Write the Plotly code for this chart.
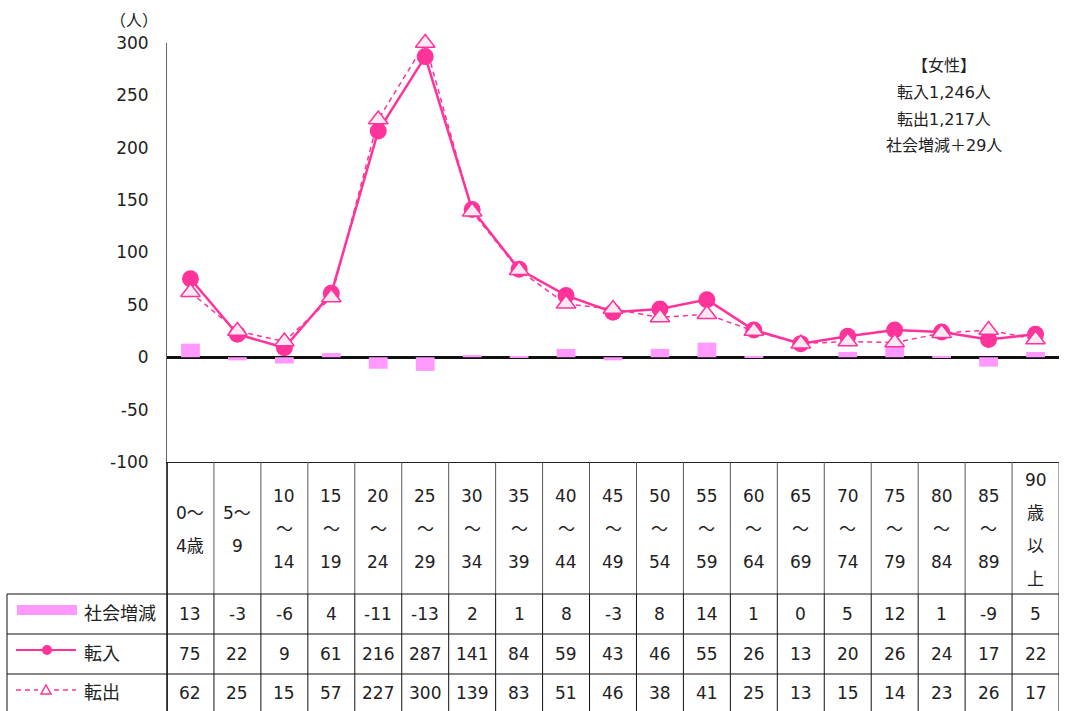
import plotly.graph_objects as go

W, H = 1067, 711

header_lines = [["0～", "4歳"], ["5～", "9"], ["10", "～", "14"], ["15", "～", "19"],
                ["20", "～", "24"], ["25", "～", "29"], ["30", "～", "34"], ["35", "～", "39"],
                ["40", "～", "44"], ["45", "～", "49"], ["50", "～", "54"], ["55", "～", "59"],
                ["60", "～", "64"], ["65", "～", "69"], ["70", "～", "74"], ["75", "～", "79"],
                ["80", "～", "84"], ["85", "～", "89"], ["90", "歳", "以", "上"]]
categories = ["".join(l) for l in header_lines]
net_change = [13, -3, -6, 4, -11, -13, 2, 1, 8, -3, 8, 14, 1, 0, 5, 12, 1, -9, 5]
moved_in = [75, 22, 9, 61, 216, 287, 141, 84, 59, 43, 46, 55, 26, 13, 20, 26, 24, 17, 22]
moved_out = [62, 25, 15, 57, 227, 300, 139, 83, 51, 46, 38, 41, 25, 13, 15, 14, 23, 26, 17]
series_names = ["社会増減", "転入", "転出"]
y_ticks = [-100, -50, 0, 50, 100, 150, 200, 250, 300]
summary_lines = ["【女性】", "転入1,246人", "転出1,217人", "社会増減＋29人"]
unit_label = "（人）"

PINK = "#FF3399"
BAR = "#FF99FF"
TRI_FILL = "#FCEAF3"
FONT = "DejaVu Sans, Noto Sans CJK JP, sans-serif"

def px(x):
    return x / W

def py(y):
    return 1 - y / H

X0, X1 = 167, 1059
Y_TOP, Y_BOT = 43, 462
idx = list(range(len(categories)))

fig = go.Figure()
fig.add_trace(go.Bar(x=idx, y=net_change, width=0.4, marker=dict(color=BAR, line=dict(width=0)),
                     name=series_names[0], hoverinfo="skip"))
fig.add_trace(go.Scatter(x=idx, y=moved_in, mode="lines+markers", name=series_names[1],
                         line=dict(color=PINK, width=2.5), cliponaxis=False,
                         marker=dict(symbol="circle", size=17, color=PINK)))
fig.add_trace(go.Scatter(x=idx, y=moved_out, mode="lines+markers", name=series_names[2],
                         line=dict(color=PINK, width=1.5, dash="5px,4px"), cliponaxis=False,
                         marker=dict(symbol="triangle-up", size=17, color=TRI_FILL,
                                     line=dict(color=PINK, width=1.5))))

fig.update_layout(
    width=W, height=H, margin=dict(l=0, r=0, t=0, b=0, pad=0, autoexpand=False),
    paper_bgcolor="white", plot_bgcolor="white", showlegend=False,
    font=dict(family=FONT, color="#222222", size=16),
    xaxis=dict(domain=[px(X0), px(X1)], range=[-0.5, len(categories) - 0.5], automargin=False,
               showticklabels=False, ticks="", showgrid=False, zeroline=False,
               showline=True, linecolor="#222222", linewidth=1),
    yaxis=dict(domain=[py(Y_BOT), py(Y_TOP)], range=[-100, 300], tickvals=y_ticks,
               ticktext=[str(v) for v in y_ticks], automargin=False,
               showgrid=False, zeroline=True, zerolinecolor="#111111", zerolinewidth=2.5,
               showline=True, linecolor="#666666", linewidth=1, ticks="",
               ticklabelstandoff=14, tickfont=dict(size=17, color="#222222")),
)

shapes = []
annotations = []

# unit label
annotations.append(dict(x=px(134), y=py(20), xref="paper", yref="paper", text=unit_label,
                        showarrow=False, font=dict(size=16), xanchor="center", yanchor="middle"))
# summary
for k, t in enumerate(summary_lines):
    annotations.append(dict(x=px(944), y=py(65 + 27 * k), xref="paper", yref="paper", text=t,
                            showarrow=False, font=dict(size=16), xanchor="center", yanchor="middle"))

# table grid
ROW_TOPS = [594, 634, 674, 711]
HEAD_COLOR = "#555555"
for i in range(len(categories) + 1):
    shapes.append(dict(type="line", xref="x", yref="paper", x0=i - 0.5, x1=i - 0.5,
                       y0=py(Y_BOT), y1=py(ROW_TOPS[0]), line=dict(color=HEAD_COLOR, width=1)))
    shapes.append(dict(type="line", xref="x", yref="paper", x0=i - 0.5, x1=i - 0.5,
                       y0=py(ROW_TOPS[0]), y1=0, line=dict(color="#111111", width=1)))
shapes.append(dict(type="line", xref="paper", yref="paper", x0=px(X0), x1=px(X0),
                   y0=py(Y_BOT), y1=0, line=dict(color="#111111", width=1.5)))
shapes.append(dict(type="line", xref="paper", yref="paper", x0=px(7), x1=px(7),
                   y0=py(ROW_TOPS[0]), y1=0, line=dict(color="#111111", width=1)))
for yy in ROW_TOPS[:3]:
    shapes.append(dict(type="line", xref="paper", yref="paper", x0=px(7), x1=px(X1),
                       y0=py(yy), y1=py(yy), line=dict(color="#111111", width=1)))

# header labels
YC, SP = 529, 33
for i, lines in enumerate(header_lines):
    n = len(lines)
    for k, t in enumerate(lines):
        yy = YC + (k - (n - 1) / 2) * SP
        annotations.append(dict(x=i, y=py(yy), xref="x", yref="paper", text=t, showarrow=False,
                                font=dict(size=17), xanchor="center", yanchor="middle"))

# table values
row_centers = [614, 654, 693]
for r, vals in enumerate([net_change, moved_in, moved_out]):
    for i, v in enumerate(vals):
        annotations.append(dict(x=i, y=py(row_centers[r]), xref="x", yref="paper", text=str(v),
                                showarrow=False, font=dict(size=17), xanchor="center",
                                yanchor="middle"))
    annotations.append(dict(x=px(82), y=py(row_centers[r] - 1), xref="paper", yref="paper",
                            text=series_names[r], showarrow=False, font=dict(size=18),
                            xanchor="left", yanchor="middle"))

# legend swatches in the table
shapes.append(dict(type="rect", xref="paper", yref="paper", x0=px(17), x1=px(77),
                   y0=py(615), y1=py(605), fillcolor=BAR, line=dict(width=0)))
shapes.append(dict(type="line", xref="paper", yref="paper", x0=px(16), x1=px(76),
                   y0=py(650), y1=py(650), line=dict(color=PINK, width=2)))
shapes.append(dict(type="circle", xref="paper", yref="paper", xsizemode="pixel",
                   ysizemode="pixel", xanchor=px(47), yanchor=py(650), x0=-5, x1=5, y0=-5, y1=5,
                   fillcolor=PINK, line=dict(width=0)))
shapes.append(dict(type="line", xref="paper", yref="paper", x0=px(16), x1=px(38),
                   y0=py(690), y1=py(690), line=dict(color=PINK, width=1.5, dash="5px,4px")))
shapes.append(dict(type="line", xref="paper", yref="paper", x0=px(54), x1=px(76),
                   y0=py(690), y1=py(690), line=dict(color=PINK, width=1.5, dash="5px,4px")))
shapes.append(dict(type="path", xref="paper", yref="paper", xsizemode="pixel", ysizemode="pixel",
                   xanchor=px(46), yanchor=py(690), path="M -5,-4 L 5,-4 L 0,5 Z",
                   fillcolor="white", line=dict(color=PINK, width=1.5)))

fig.update_layout(shapes=shapes, annotations=annotations)
fig.write_html("out.html", config={"displayModeBar": False},
               post_script="document.body.style.margin='0';document.body.style.overflow='hidden';")
